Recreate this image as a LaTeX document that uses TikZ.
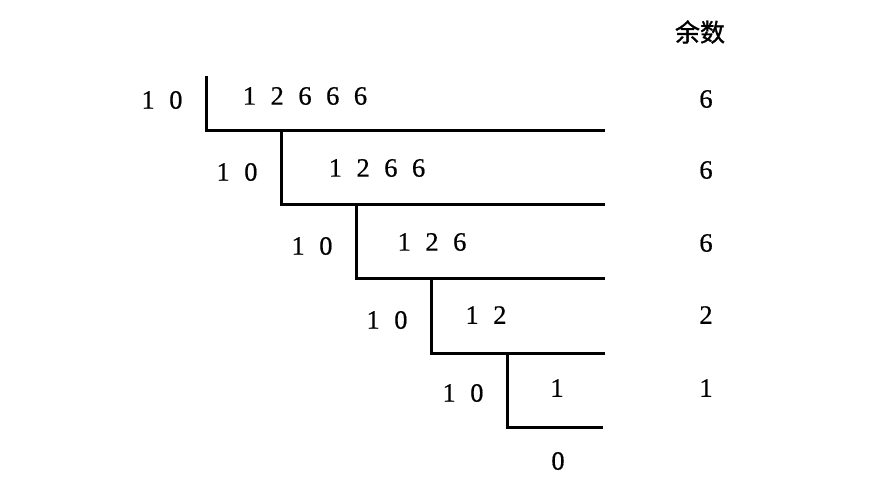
\documentclass[tikz,border=0pt]{standalone}
\usepackage{fontspec}
\setmainfont{Liberation Serif}
\newfontfamily\numfont[FakeBold=0.6]{Liberation Serif}
\newfontfamily\cjk[FakeBold=1.2]{Noto Sans CJK SC}
\newcommand{\dg}{\hspace{14.5pt}}
\begin{document}
\begin{tikzpicture}[x=1pt,y=-1pt,
  num/.style={inner sep=0pt,font=\numfont\fontsize{26.5}{30}\selectfont},
  bracket/.style={line width=3pt,line cap=rect,line join=miter}]
\useasboundingbox[fill=white] (0,0) rectangle (880,498);
% corners
\coordinate (t1) at (206,77);
\coordinate (c1) at (206,130);
\coordinate (e1) at (603,130);
\coordinate (c2) at (281,204);
\coordinate (e2) at (603,204);
\coordinate (c3) at (356,278);
\coordinate (e3) at (603,278);
\coordinate (c4) at (431,353);
\coordinate (e4) at (603,353);
\coordinate (c5) at (507,427);
\coordinate (e5) at (601,427);
\draw[bracket] (t1) -- (c1) -- (e1);
\draw[bracket] (c2 |- c1) -- (c2) -- (e2);
\draw[bracket] (c3 |- c2) -- (c3) -- (e3);
\draw[bracket] (c4 |- c3) -- (c4) -- (e4);
\draw[bracket] (c5 |- c4) -- (c5) -- (e5);
% divisors
\node[num] (d1) at (162,100) {1\dg 0};
\node[num] (d2) at (237,172) {1\dg 0};
\node[num] (d3) at (312,246) {1\dg 0};
\node[num] (d4) at (387,320) {1\dg 0};
\node[num] (d5) at (463,393) {1\dg 0};
% dividends
\node[num] (q1) at (305,96) {1\dg 2\dg 6\dg 6\dg 6};
\node[num] (q2) at (377,168) {1\dg 2\dg 6\dg 6};
\node[num] (q3) at (432,242) {1\dg 2\dg 6};
\node[num] (q4) at (486,315) {1\dg 2};
\node[num] (q5) at (557,388) {1};
\node[num] (q6) at (558,461) {0};
% remainders
\node[inner sep=0pt,font=\cjk\fontsize{25}{28}\selectfont] (rh) at (700,32) {余数};
\node[num] (r1) at (706,99) {6};
\node[num] (r2) at (706,170) {6};
\node[num] (r3) at (706,243) {6};
\node[num] (r4) at (706,315) {2};
\node[num] (r5) at (706,388) {1};
\end{tikzpicture}
\end{document}
